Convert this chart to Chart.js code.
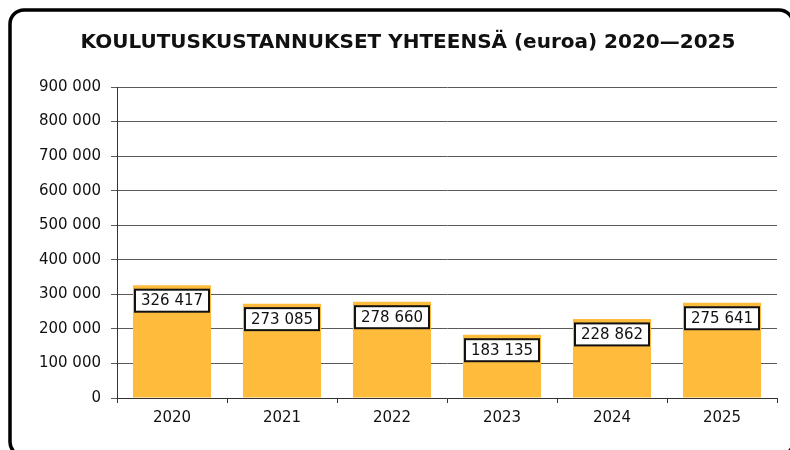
<!DOCTYPE html>
<html>
<head>
<meta charset="utf-8">
<script src="https://cdn.jsdelivr.net/npm/chart.js@4"></script>
<style>
  html, body { margin: 0; padding: 0; background: #fff; }
  #wrap { width: 790px; height: 450px; }
</style>
</head>
<body>
<div id="wrap"><canvas id="costChart" width="790" height="450"></canvas></div>
<script>
const years = ['2020', '2021', '2022', '2023', '2024', '2025'];
const costs = [326417, 273085, 278660, 183135, 228862, 275641];
const yTicks = [0, 100000, 200000, 300000, 400000, 500000, 600000, 700000, 800000, 900000];
const titleText = 'KOULUTUSKUSTANNUKSET YHTEENSÄ (euroa) 2020—2025';

const fmt = v => String(v).replace(/\B(?=(\d{3})+(?!\d))/g, ' ');

// ---- frame + title ----
const framePlugin = {
  id: 'frame',
  afterDraw(chart) {
    const c = chart.ctx;
    c.save();
    c.lineWidth = 3.5;
    c.strokeStyle = '#000';
    c.beginPath();
    c.roundRect(10, 10, 783, 446, 14);
    c.stroke();
    c.fillStyle = '#111';
    c.font = 'bold 20px "DejaVu Sans"';
    c.textAlign = 'center';
    c.textBaseline = 'middle';
    c.fillText(titleText, 408, 43);
    c.restore();
  }
};

// ---- value boxes near bar tops ----
const boxPlugin = {
  id: 'valueBoxes',
  afterDatasetsDraw(chart) {
    const c = chart.ctx;
    const meta = chart.getDatasetMeta(0);
    c.save();
    c.font = '15px "DejaVu Sans"';
    c.textAlign = 'center';
    c.textBaseline = 'middle';
    meta.data.forEach((bar, i) => {
      const txt = fmt(costs[i]);
      const w = c.measureText(txt).width + 12;
      const h = 22;
      const x = bar.x - w / 2;
      const y = bar.y + 4.5;
      c.fillStyle = '#fff';
      c.fillRect(x, y, w, h);
      c.lineWidth = 2;
      c.strokeStyle = '#111';
      c.strokeRect(x, y, w, h);
      c.fillStyle = '#111';
      c.fillText(txt, bar.x, y + h / 2 + 0.5);
    });
    c.restore();
  }
};

new Chart(document.getElementById('costChart').getContext('2d'), {
  type: 'bar',
  data: {
    labels: years,
    datasets: [{
      data: costs,
      backgroundColor: '#FFBB3C',
      barPercentage: 0.71,
      categoryPercentage: 1
    }]
  },
  options: {
    responsive: false,
    animation: false,
    layout: { padding: { top: 87, left: 0, right: 13, bottom: 0 } },
    plugins: {
      legend: { display: false },
      tooltip: { enabled: false },
      title: { display: false }
    },
    scales: {
      x: {
        offset: true,
        afterFit: s => { s.height = 52; },
        grid: {
          offset: true,
          drawOnChartArea: false,
          drawTicks: true,
          tickLength: 5,
          color: '#333'
        },
        border: { color: '#333', width: 1 },
        ticks: {
          padding: 6,
          color: '#111',
          font: { family: 'DejaVu Sans', size: 15 }
        }
      },
      y: {
        min: 0,
        max: 900000,
        afterFit: s => { s.width = 117; },
        afterBuildTicks: s => { s.ticks = yTicks.map(v => ({ value: v })); },
        grid: {
          color: '#5a5a5a',
          tickLength: 6,
          lineWidth: 1
        },
        border: { color: '#333', width: 1 },
        ticks: {
          padding: 10,
          color: '#111',
          font: { family: 'DejaVu Sans', size: 15 },
          callback: v => fmt(v)
        }
      }
    }
  },
  plugins: [framePlugin, boxPlugin]
});
</script>
</body>
</html>
